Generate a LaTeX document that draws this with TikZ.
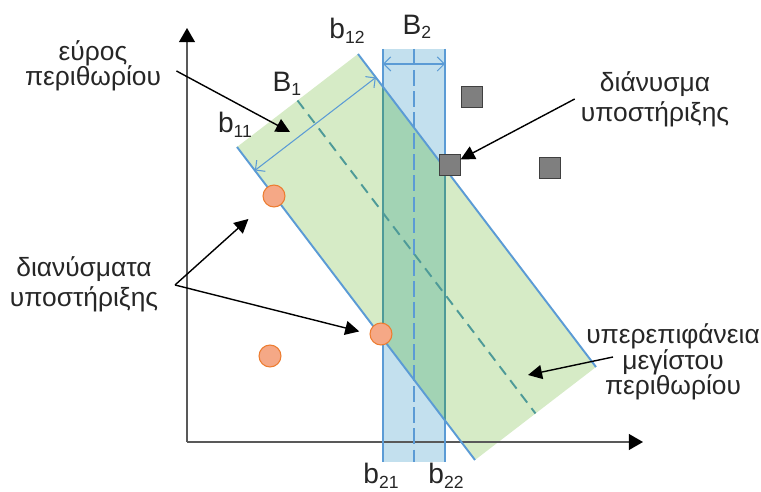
\documentclass[tikz,border=0pt]{standalone}
\usepackage{fontspec}
\setmainfont{Liberation Sans}
\usepackage{tikz}
\usetikzlibrary{arrows.meta, calc}
\definecolor{svmgreen}{HTML}{D6EBC6}
\definecolor{svmblue}{HTML}{C3E0EE}
\definecolor{svmmix}{HTML}{A2D3B4}
\definecolor{svmline}{HTML}{5B9BD5}
\definecolor{svmteal}{HTML}{4E9A98}
\definecolor{svmaxis}{HTML}{595959}
\definecolor{svmtext}{HTML}{262626}
\definecolor{svmorange}{HTML}{F5A886}
\definecolor{svmorangedark}{HTML}{ED7D31}
\definecolor{svmgray}{HTML}{7F7F7F}
\newcommand{\bsub}[2]{#1\raisebox{-0.3ex}{\fontsize{10}{10}\selectfont #2}}

\begin{document}
\begin{tikzpicture}[
        x=0.02cm, y=-0.02cm,
        font=\fontsize{15}{17}\selectfont,
        every node/.style={align=center, text=svmtext},
        lbl/.style={font=\fontsize{16}{18}\selectfont},
        tight/.style={font=\fontsize{15}{14.5}\selectfont},
        axis/.style={svmaxis, line width=0.8pt,
                     -{Triangle[length=8pt, width=9pt, color=black]}},
        callout/.style={black, line width=0.8pt,
                        -{Triangle[length=8pt, width=8pt]}},
        marginline/.style={svmline, line width=1.1pt},
        bandline/.style={svmline, line width=1.1pt},
        midline/.style={svmteal, line width=1.1pt, dash pattern=on 6pt off 4pt},
        marginwidth/.style={svmline, line width=0.6pt,
                            {Straight Barb[length=4pt, width=8pt]}-{Straight Barb[length=4pt, width=8pt]}},
        svsq/.style={rectangle, draw=black!75, fill=svmgray, line width=0.6pt,
                     minimum size=11.5pt, inner sep=0pt},
        svdot/.style={circle, draw=svmorangedark, fill=svmorange, line width=0.6pt,
                      minimum size=12.5pt, inner sep=0pt}
    ]
        \useasboundingbox (0,0) rectangle (761,492);

        \coordinate (g1) at (237,147);
        \coordinate (g2) at (358,54);
        \coordinate (g3) at (596,367);
        \coordinate (g4) at (475,460);
        \coordinate (b21t) at (383,49);
        \coordinate (b21b) at (383,462);
        \coordinate (b2mt) at (414,49);
        \coordinate (b2mb) at (414,462);
        \coordinate (b22t) at (445,49);
        \coordinate (b22b) at (445,462);

        % margin bands
        \fill[svmgreen] (g1) -- (g2) -- (g3) -- (g4) -- cycle;
        \fill[svmblue] (b21t) rectangle (b22b);
        \begin{scope}
            \clip (g1) -- (g2) -- (g3) -- (g4) -- cycle;
            \fill[svmmix] (b21t) rectangle (b22b);
        \end{scope}

        \coordinate (origin) at (187,442);
        \coordinate (xmax) at (643,442);
        \coordinate (ymax) at (187,28);
        \draw[axis] (origin) -- (ymax);
        \draw[axis] (origin) -- (xmax);

        \draw[bandline] (b21t) -- (b21b);
        \draw[bandline] (b22t) -- (b22b);
        \draw[bandline, dash pattern=on 9pt off 3pt] (b2mt) -- (b2mb);
        \begin{scope}
            \clip (g1) -- (g2) -- (g3) -- (g4) -- cycle;
            \draw[svmteal, line width=1.1pt] (b21t) -- (b21b);
            \draw[svmteal, line width=1.1pt] (b22t) -- (b22b);
        \end{scope}

        \draw[marginline] (g1) -- (g4);
        \draw[marginline] (g2) -- (g3);
        \draw[midline] ($(g1)!0.5!(g2)$) -- ($(g4)!0.5!(g3)$);

        \draw[marginwidth] ($(g1)!0.075!(g4)$) -- ($(g2)!0.075!(g3)$);
        \draw[marginwidth] ($(b21t)+(0,15)$) -- ($(b22t)+(0,15)$);

        \node[lbl] (lb11) at (235,125) {\bsub{b}{11}};
        \node[lbl] (lB1)  at (287,84)  {\bsub{B}{1}};
        \node[lbl] (lb12) at (347,31)  {\bsub{b}{12}};
        \node[lbl] (lB2)  at (417,27)  {\bsub{B}{2}};
        \node[lbl] (lb21) at (381,476) {\bsub{b}{21}};
        \node[lbl] (lb22) at (446,476) {\bsub{b}{22}};

        \node[svsq] (sq1) at (472,97)  {};
        \node[svsq] (sq2) at (450,165) {};
        \node[svsq] (sq3) at (550,168) {};

        \node[svdot] (c1) at (274,196) {};
        \node[svdot] (c2) at (381,334) {};
        \node[svdot] (c3) at (270,356) {};

        \node[tight] (txtwidth) at (93,66)  {εύρος\\περιθωρίου};
        \node (txtsv)  at (655,99)  {διάνυσμα\\υποστήριξης};
        \node (txtsvs) at (84,284)  {διανύσματα\\υποστήριξης};
        \node[tight] (txthyp) at (673,362) {υπερεπιφάνεια\\μεγίστου\\περιθωρίου};

        \coordinate (wto) at (290,132);
        \coordinate (svfork) at (175,285);
        \coordinate (hypfrom) at (613,357);
        \coordinate (hypto) at (528,375);

        \draw[callout, shorten <=6pt] (txtwidth.east) -- (wto);
        \draw[callout] (txtsv.west) -- (sq2);
        \draw[callout, shorten >=13pt] (svfork) -- (c1);
        \draw[callout, shorten >=6pt] (svfork) -- (c2.west);
        \draw[callout] (hypfrom) -- (hypto);
    \end{tikzpicture}
\end{document}
